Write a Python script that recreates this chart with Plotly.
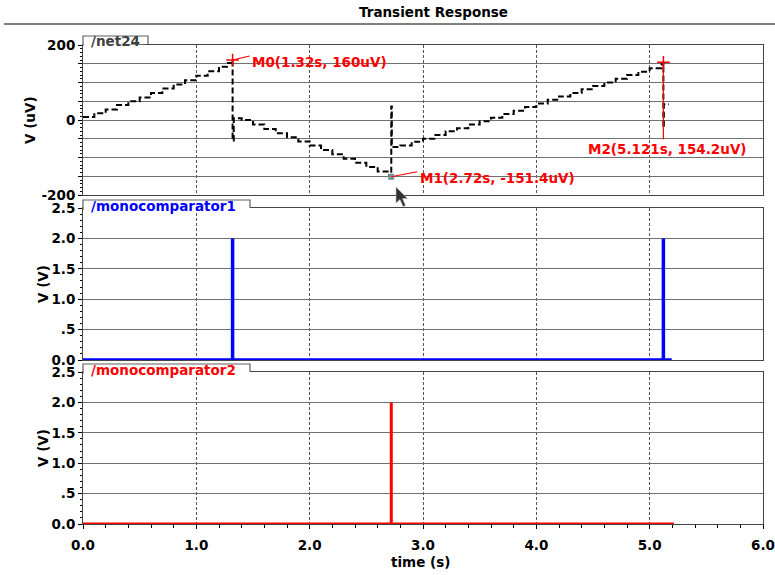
import plotly.graph_objects as go

W, H = 775, 575

# ---------------- data ----------------
net24_t = [0.00, 0.10, 0.20, 0.30, 0.40, 0.50, 0.60, 0.70, 0.80, 0.90, 1.00, 1.10, 1.20, 1.27, 1.32,
           1.32, 1.33, 1.40, 1.50, 1.60, 1.70, 1.80, 1.90, 2.00, 2.10, 2.20, 2.30, 2.40, 2.50, 2.60, 2.70, 2.72,
           2.72, 2.725, 2.80, 2.90, 3.00, 3.10, 3.20, 3.30, 3.40, 3.50, 3.60, 3.70, 3.80, 3.90, 4.00, 4.10,
           4.20, 4.30, 4.40, 4.50, 4.60, 4.70, 4.80, 4.90, 5.00, 5.10, 5.121,
           5.121, 5.125, 5.17]
net24_v = [8, 18, 28, 40, 50, 60, 72, 84, 95, 106, 118, 130, 142, 152, 160,
           -55, 5, 0, -12, -24, -35, -46, -57, -68, -80, -91, -103, -114, -125, -137, -148, -151.4,
           36, -72, -68, -58, -50, -40, -30, -22, -12, -3, 6, 16, 25, 35, 44, 54,
           63, 72, 82, 91, 100, 110, 120, 129, 138, 148, 154.2,
           -21, 42, 42]

mono1_t = [0.0, 1.32, 1.32, 1.32, 5.121, 5.121, 5.121, 5.195]
mono1_v = [0.0, 0.0, 2.0, 0.0, 0.0, 2.0, 0.0, 0.0]

mono2_t = [0.0, 2.72, 2.72, 2.72, 5.215]
mono2_v = [0.0, 0.0, 2.0, 0.0, 0.0]

marker_names = ["M0", "M1", "M2"]
marker_t = [1.32, 2.72, 5.121]
marker_v = [160, -151.4, 154.2]
marker_labels = ["M0(1.32s, 160uV)", "M1(2.72s, -151.4uV)", "M2(5.121s, 154.2uV)"]

signal_names = ["/net24", "/monocomparator1", "/monocomparator2"]
y_titles = ["V (uV)", "V (V)", "V (V)"]
x_title = "time (s)"
chart_title = "Transient Response"

# ---------------- helpers (pixel -> paper) ----------------
def PX(p):
    return p / W

def PY(p):
    return 1 - p / H

FONT = "DejaVu Sans"
FS = 13.5
XL, XR = 83, 763
panels = [(45, 195), (208, 360), (372, 524)]

fig = go.Figure()

fig.add_trace(go.Scatter(x=net24_t, y=net24_v, mode="lines", line_shape="hv",
                         line=dict(color="black", width=2, dash="6px,3px"),
                         xaxis="x", yaxis="y", showlegend=False, hoverinfo="skip"))
fig.add_trace(go.Scatter(x=mono1_t, y=mono1_v, mode="lines",
                         line=dict(color="#0000ff", width=3.5),
                         xaxis="x2", yaxis="y2", showlegend=False, hoverinfo="skip"))
fig.add_trace(go.Scatter(x=mono2_t, y=mono2_v, mode="lines",
                         line=dict(color="#ff0000", width=3),
                         xaxis="x3", yaxis="y3", showlegend=False, hoverinfo="skip"))

# marker symbols
fig.add_trace(go.Scatter(x=[marker_t[0], marker_t[2]], y=[marker_v[0], marker_v[2]], mode="markers",
                         marker=dict(symbol="cross-thin", size=9, line=dict(color="#ff0000", width=1.5)),
                         xaxis="x", yaxis="y", showlegend=False, hoverinfo="skip", cliponaxis=False))
fig.add_trace(go.Scatter(x=[marker_t[1]], y=[marker_v[1]], mode="markers",
                         marker=dict(symbol="square", size=5, color="#5f9ea0", line=dict(color="#888", width=1)),
                         xaxis="x", yaxis="y", showlegend=False, hoverinfo="skip", cliponaxis=False))

xcommon = dict(range=[0, 6], tick0=0, dtick=1, showgrid=True, gridcolor="#555", gridwidth=1,
               griddash="3px,2px", showline=True, mirror=True, linecolor="#444", linewidth=1,
               zeroline=False, domain=[PX(XL), PX(XR)], fixedrange=True, automargin=False)
tickfont = dict(family=FONT, size=FS, color="black", weight="bold")

layout = dict(width=W, height=H, margin=dict(l=0, r=0, t=0, b=0, pad=0, autoexpand=False),
              paper_bgcolor="white", plot_bgcolor="white", showlegend=False)

for i, (top, bot) in enumerate(panels):
    n = "" if i == 0 else str(i + 1)
    xa = dict(xcommon)
    xa["anchor"] = "y" + n
    if i < 2:
        xa.update(showticklabels=False, ticks="")
    else:
        xa.update(ticks="outside", ticklen=4, tickcolor="black", tickformat=".1f",
                  tickfont=tickfont, ticklabelstandoff=5,
                  minor=dict(dtick=0.2, ticks="outside", ticklen=3, tickcolor="black", showgrid=False))
    layout["xaxis" + n] = xa
    ya = dict(anchor="x" + n, domain=[PY(bot), PY(top)], showgrid=True, gridcolor="#707070",
              gridwidth=1, showline=True, mirror=True, linecolor="#444", linewidth=1,
              zeroline=False, ticks="outside", ticklen=4, tickcolor="black",
              tickfont=tickfont, fixedrange=True, automargin=False)
    if i == 0:
        ya.update(range=[-200, 200], tick0=0, dtick=50,
                  labelalias={"150": "", "100": "", "50": "", "\u221250": "", "\u2212100": "",
                              "\u2212150": "", "\u2212200": "-200"},
                  minor=dict(dtick=10, ticks="outside", ticklen=2, tickcolor="black", showgrid=False))
    else:
        ya.update(range=[0, 2.5], tick0=0, dtick=0.5, tickformat=".1f", labelalias={"0.5": ".5"},
                  minor=dict(dtick=0.1, ticks="outside", ticklen=2, tickcolor="black", showgrid=False))
    layout["yaxis" + n] = ya

fig.update_layout(**layout)

shapes = []
annos = []

# separator under title
shapes.append(dict(type="line", xref="paper", yref="paper", x0=PX(4), x1=PX(775), y0=PY(24), y1=PY(24),
                   line=dict(color="#808080", width=2)))
annos.append(dict(text="<b>%s</b>" % chart_title, xref="paper", yref="paper", x=PX(433), y=PY(12),
                  showarrow=False, font=dict(family=FONT, size=FS, color="black"),
                  xanchor="center", yanchor="middle"))

# signal tabs
tabs = [(36, 44, 148, "#404040"), (200, 208, 250, "#0000ff"), (364, 372, 250, "#ff0000")]
for (ttop, tbot, tright, col), name in zip(tabs, signal_names):
    shapes.append(dict(type="path", xref="paper", yref="paper",
                       path="M %f,%f L %f,%f L %f,%f L %f,%f" % (PX(XL), PY(tbot + 2), PX(XL), PY(ttop),
                                                                 PX(tright), PY(ttop), PX(tright), PY(tbot)),
                       line=dict(color="#606060", width=1.2), fillcolor="white"))
    annos.append(dict(text="<b>%s</b>" % name, xref="paper", yref="paper", x=PX(89), y=PY(ttop + 5.5),
                      showarrow=False, font=dict(family=FONT, size=FS, color=col),
                      xanchor="left", yanchor="middle"))

# axis titles
for (top, bot), t, xp in zip(panels, y_titles, [30, 43, 43]):
    annos.append(dict(text="<b>%s</b>" % t, xref="paper", yref="paper", x=PX(xp), y=PY((top + bot) / 2),
                      showarrow=False, textangle=-90, font=dict(family=FONT, size=FS, color="black"),
                      xanchor="center", yanchor="middle"))
annos.append(dict(text="<b>%s</b>" % x_title, xref="paper", yref="paper", x=PX(420), y=PY(562),
                  showarrow=False, font=dict(family=FONT, size=FS, color="black"),
                  xanchor="center", yanchor="middle"))

# marker connectors and labels
conn = [(17, 4), (26, 5), (0, -77)]
lab = [("left", 17, -2), ("left", 27, -1), ("center", 4, -87)]
for t, v, (cx, cy), (xa_, xs, ys), txt in zip(marker_t, marker_v, conn, lab, marker_labels):
    shapes.append(dict(type="line", xref="x", yref="y", xsizemode="pixel", ysizemode="pixel",
                       xanchor=t, yanchor=v, x0=0, y0=0, x1=cx, y1=cy,
                       line=dict(color="#ff0000", width=1.2)))
    annos.append(dict(text="<b>%s</b>" % txt, xref="x", yref="y", x=t, y=v, xshift=xs, yshift=ys,
                      showarrow=False, font=dict(family=FONT, size=FS, color="#ff0000"),
                      xanchor=xa_, yanchor="middle", bgcolor="rgba(255,255,255,0)"))

# mouse cursor
cur = [(396, 187), (396, 203), (400, 199.5), (403, 206.5), (405.5, 205.5), (402.5, 198.5), (407.5, 198.5)]
shapes.append(dict(type="path", xref="paper", yref="paper",
                   path="M " + " L ".join("%f,%f" % (PX(a), PY(b)) for a, b in cur) + " Z",
                   fillcolor="#333", line=dict(color="#bbb", width=0.6)))

fig.update_layout(shapes=shapes, annotations=annos)
fig.write_html("out.html")
